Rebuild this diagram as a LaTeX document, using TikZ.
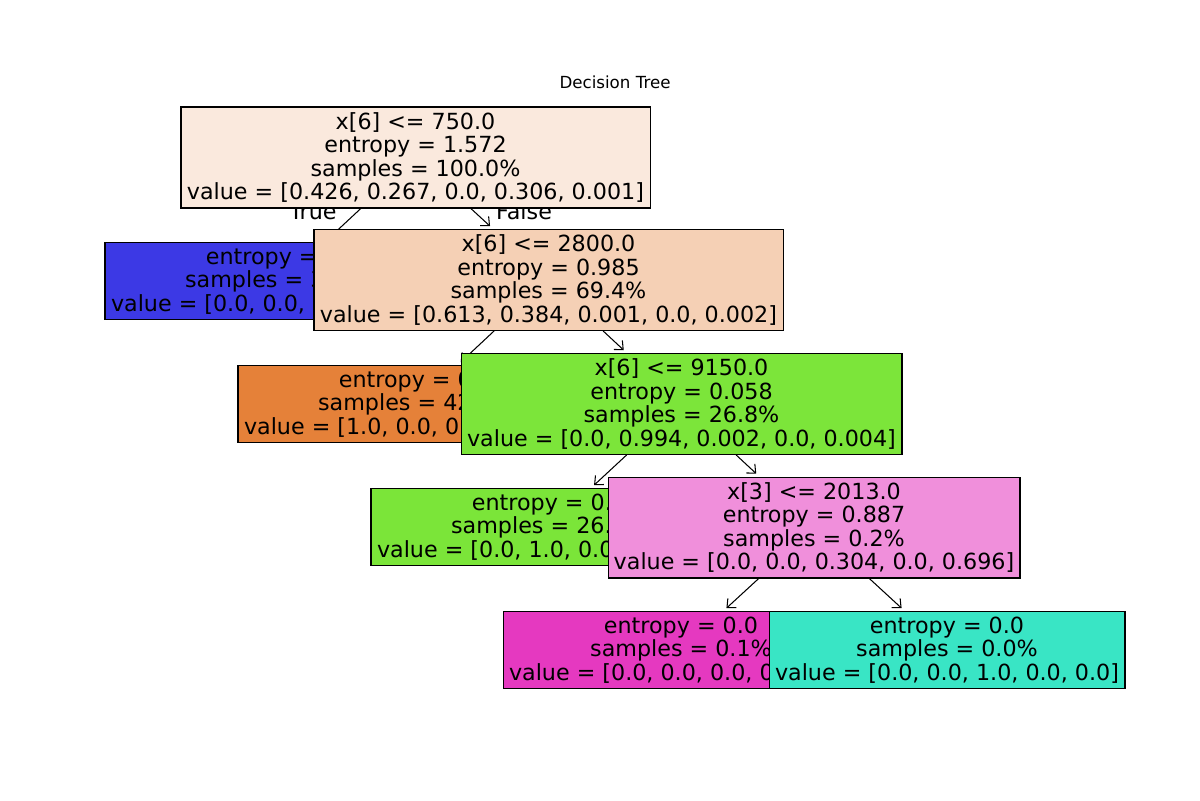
\documentclass[tikz,border=0pt]{standalone}
\usepackage{fontspec}
\setmainfont{DejaVu Sans}
\usetikzlibrary{arrows.meta}

% class colours, faded by node purity
\definecolor{rootfill}{RGB}{250,233,221}
\definecolor{midfill}{RGB}{245,208,181}
\definecolor{leafblue}{RGB}{60,57,229}
\definecolor{leaforange}{RGB}{229,129,57}
\definecolor{leafgreen}{RGB}{123,229,57}
\definecolor{splitgreen}{RGB}{124,229,58}
\definecolor{splitpink}{RGB}{240,143,219}
\definecolor{leafmagenta}{RGB}{229,57,192}
\definecolor{leafteal}{RGB}{57,229,197}

\begin{document}
\begin{tikzpicture}[x=0.72pt,y=-0.72pt,
  treebox/.style={draw=black, line width=0.75pt, inner sep=0pt, align=center,
    font=\fontsize{16}{17}\selectfont},
  splitbox/.style={treebox, minimum height=72.7pt},
  leafbox/.style={treebox, minimum width=256.3pt, minimum height=55.4pt},
  edge/.style={-{Straight Barb[length=5pt,width=9pt]}, line width=0.75pt, shorten >=3pt},
  branchlbl/.style={font=\fontsize{16}{17}\selectfont, anchor=base, inner sep=0pt}]
\useasboundingbox (0,0) rectangle (1200,800);

\node[font=\fontsize{12}{14}\selectfont, anchor=base, inner sep=0pt] (title) at (615,88) {Decision Tree};

% branch labels sit under the root box
\node[branchlbl] (lbltrue) at (313,219) {True};
\node[branchlbl] (lblfalse) at (524,219) {False};

\node[splitbox, minimum width=337.7pt, fill=rootfill] (n0) at (415.5,157.5)
  {x[6] <= 750.0\\entropy = 1.572\\samples = 100.0\%\\value = [0.426, 0.267, 0.0, 0.306, 0.001]};

\node[leafbox, fill=leafblue] (n1) at (283,281)
  {entropy = 0.0\\samples = 30.6\%\\value = [0.0, 0.0, 0.0, 1.0, 0.0]};
\draw[edge] (n0) -- (n1);

\node[splitbox, minimum width=337.7pt, fill=midfill] (n2) at (548.5,280)
  {x[6] <= 2800.0\\entropy = 0.985\\samples = 69.4\%\\value = [0.613, 0.384, 0.001, 0.0, 0.002]};
\draw[edge] (n0) -- (n2);

\node[leafbox, fill=leaforange] (n3) at (416,404)
  {entropy = 0.0\\samples = 42.6\%\\value = [1.0, 0.0, 0.0, 0.0, 0.0]};
\draw[edge] (n2) -- (n3);

\node[splitbox, minimum width=317.5pt, fill=splitgreen] (n4) at (681.5,404)
  {x[6] <= 9150.0\\entropy = 0.058\\samples = 26.8\%\\value = [0.0, 0.994, 0.002, 0.0, 0.004]};
\draw[edge] (n2) -- (n4);

\node[leafbox, fill=leafgreen] (n5) at (549,527)
  {entropy = 0.0\\samples = 26.6\%\\value = [0.0, 1.0, 0.0, 0.0, 0.0]};
\draw[edge] (n4) -- (n5);

\node[splitbox, minimum width=296.6pt, fill=splitpink] (n6) at (814,527.5)
  {x[3] <= 2013.0\\entropy = 0.887\\samples = 0.2\%\\value = [0.0, 0.0, 0.304, 0.0, 0.696]};
\draw[edge] (n4) -- (n6);

\node[leafbox, fill=leafmagenta] (n7) at (681,650)
  {entropy = 0.0\\samples = 0.1\%\\value = [0.0, 0.0, 0.0, 0.0, 1.0]};
\draw[edge] (n6) -- (n7);

\node[leafbox, fill=leafteal] (n8) at (947,650)
  {entropy = 0.0\\samples = 0.0\%\\value = [0.0, 0.0, 1.0, 0.0, 0.0]};
\draw[edge] (n6) -- (n8);
\end{tikzpicture}
\end{document}
